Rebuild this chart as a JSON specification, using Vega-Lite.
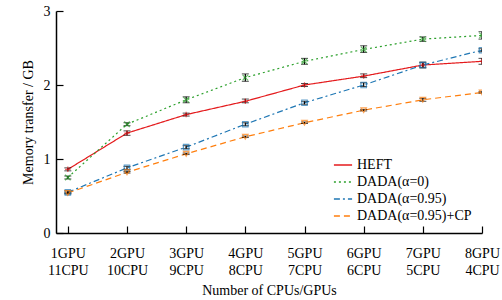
{
  "$schema": "https://vega.github.io/schema/vega-lite/v6.json",
  "width": 426,
  "height": 222,
  "autosize": {"type": "none"},
  "padding": {"left": 56, "top": 11, "right": 20, "bottom": 67},
  "config": {
    "font": "Liberation Serif",
    "view": {"stroke": null},
    "axis": {"domainColor": "black", "tickColor": "black", "labelColor": "black", "titleColor": "black", "labelFont": "Liberation Serif", "titleFont": "Liberation Serif", "labelFontSize": 14, "titleFontSize": 14, "titleFontWeight": "normal", "grid": false, "domainWidth": 1.5, "tickWidth": 1.2},
    "legend": {"labelFont": "Liberation Serif", "labelFontSize": 14, "labelColor": "black", "labelFontWeight": "normal"}
  },
  "resolve": {"legend": {"color": "independent", "shape": "independent", "strokeDash": "independent"}},
  "data": {"values": [
    {"g": 1, "s": "HEFT", "y": 0.86, "lo": 0.84, "hi": 0.88},
    {"g": 2, "s": "HEFT", "y": 1.35, "lo": 1.32, "hi": 1.38},
    {"g": 3, "s": "HEFT", "y": 1.6, "lo": 1.58, "hi": 1.62},
    {"g": 4, "s": "HEFT", "y": 1.78, "lo": 1.76, "hi": 1.81},
    {"g": 5, "s": "HEFT", "y": 2.0, "lo": 1.98, "hi": 2.02},
    {"g": 6, "s": "HEFT", "y": 2.12, "lo": 2.1, "hi": 2.15},
    {"g": 7, "s": "HEFT", "y": 2.27, "lo": 2.24, "hi": 2.3},
    {"g": 8, "s": "HEFT", "y": 2.32, "lo": 2.28, "hi": 2.36},
    {"g": 1, "s": "DADA(α=0)", "y": 0.75, "lo": 0.73, "hi": 0.77},
    {"g": 2, "s": "DADA(α=0)", "y": 1.47, "lo": 1.45, "hi": 1.49},
    {"g": 3, "s": "DADA(α=0)", "y": 1.8, "lo": 1.76, "hi": 1.84},
    {"g": 4, "s": "DADA(α=0)", "y": 2.1, "lo": 2.05, "hi": 2.15},
    {"g": 5, "s": "DADA(α=0)", "y": 2.32, "lo": 2.28, "hi": 2.36},
    {"g": 6, "s": "DADA(α=0)", "y": 2.48, "lo": 2.44, "hi": 2.53},
    {"g": 7, "s": "DADA(α=0)", "y": 2.62, "lo": 2.59, "hi": 2.65},
    {"g": 8, "s": "DADA(α=0)", "y": 2.67, "lo": 2.62, "hi": 2.72},
    {"g": 1, "s": "DADA(α=0.95)", "y": 0.55, "lo": 0.53, "hi": 0.57},
    {"g": 2, "s": "DADA(α=0.95)", "y": 0.88, "lo": 0.86, "hi": 0.9},
    {"g": 3, "s": "DADA(α=0.95)", "y": 1.16, "lo": 1.14, "hi": 1.18},
    {"g": 4, "s": "DADA(α=0.95)", "y": 1.47, "lo": 1.45, "hi": 1.49},
    {"g": 5, "s": "DADA(α=0.95)", "y": 1.76, "lo": 1.74, "hi": 1.78},
    {"g": 6, "s": "DADA(α=0.95)", "y": 2.0, "lo": 1.98, "hi": 2.03},
    {"g": 7, "s": "DADA(α=0.95)", "y": 2.27, "lo": 2.23, "hi": 2.31},
    {"g": 8, "s": "DADA(α=0.95)", "y": 2.47, "lo": 2.45, "hi": 2.49},
    {"g": 1, "s": "DADA(α=0.95)+CP", "y": 0.54, "lo": 0.53, "hi": 0.55},
    {"g": 2, "s": "DADA(α=0.95)+CP", "y": 0.82, "lo": 0.81, "hi": 0.83},
    {"g": 3, "s": "DADA(α=0.95)+CP", "y": 1.07, "lo": 1.06, "hi": 1.08},
    {"g": 4, "s": "DADA(α=0.95)+CP", "y": 1.3, "lo": 1.29, "hi": 1.31},
    {"g": 5, "s": "DADA(α=0.95)+CP", "y": 1.49, "lo": 1.48, "hi": 1.5},
    {"g": 6, "s": "DADA(α=0.95)+CP", "y": 1.66, "lo": 1.65, "hi": 1.67},
    {"g": 7, "s": "DADA(α=0.95)+CP", "y": 1.8, "lo": 1.78, "hi": 1.82},
    {"g": 8, "s": "DADA(α=0.95)+CP", "y": 1.9, "lo": 1.89, "hi": 1.91}
  ]},
  "layer": [
    {
      "mark": {"type": "line", "strokeWidth": 1.2, "clip": true},
      "encoding": {
        "x": {"field": "g", "type": "quantitative", "scale": {"domain": [0.8, 8], "nice": false},
          "axis": {"values": [1, 2, 3, 4, 5, 6, 7, 8], "title": "Number of CPUs/GPUs", "tickSize": -7, "labelPadding": 20, "labelLineHeight": 17, "labelBaseline": "top", "titlePadding": 6, "labelOverlap": false, "labelBound": false, "labelFlush": false,
            "labelExpr": "[datum.value + 'GPU', (12 - datum.value) + 'CPU']"}},
        "y": {"field": "y", "type": "quantitative", "scale": {"domain": [0, 3], "nice": false},
          "axis": {"values": [0, 0.5, 1, 1.5, 2, 2.5, 3], "format": "~g", "title": "Memory transfer / GB", "tickSize": -7, "labelPadding": 13, "titlePadding": 8}},
        "color": {"field": "s", "type": "nominal",
          "scale": {"domain": ["HEFT", "DADA(α=0)", "DADA(α=0.95)", "DADA(α=0.95)+CP"], "range": ["#e41a1c", "#2ca02c", "#1f77b4", "#ff7f0e"]},
          "legend": {"title": null, "orient": "bottom-right", "offset": 10, "symbolType": "stroke", "symbolSize": 330, "rowPadding": 0, "symbolStrokeWidth": 1.5}},
        "strokeDash": {"field": "s", "type": "nominal",
          "scale": {"domain": ["HEFT", "DADA(α=0)", "DADA(α=0.95)", "DADA(α=0.95)+CP"], "range": [[1, 0], [2, 3], [6, 3, 2, 3], [6, 4]]},
          "legend": {"title": null, "orient": "bottom-right", "offset": 10, "symbolType": "stroke", "symbolSize": 330, "rowPadding": 0, "symbolStrokeWidth": 1.5}}
      }
    },
    {
      "mark": {"type": "errorbar", "ticks": {"size": 7, "color": "black", "strokeWidth": 1.2}, "rule": {"color": "black", "strokeWidth": 1.2}, "clip": true},
      "encoding": {
        "x": {"field": "g", "type": "quantitative"},
        "y": {"field": "lo", "type": "quantitative", "title": "Memory transfer / GB"},
        "y2": {"field": "hi"}
      }
    },
    {
      "mark": {"type": "point", "filled": false, "size": 30, "strokeWidth": 1.2, "clip": true},
      "encoding": {
        "x": {"field": "g", "type": "quantitative"},
        "y": {"field": "y", "type": "quantitative"},
        "color": {"field": "s", "type": "nominal", "legend": null},
        "shape": {"field": "s", "type": "nominal",
          "scale": {"domain": ["HEFT", "DADA(α=0)", "DADA(α=0.95)", "DADA(α=0.95)+CP"], "range": ["M0,-1L0,1M-1,0L1,0", "M-1,-1L1,1M-1,1L1,-1", "square", "triangle-down"]},
          "legend": null}
      }
    }
  ]
}
